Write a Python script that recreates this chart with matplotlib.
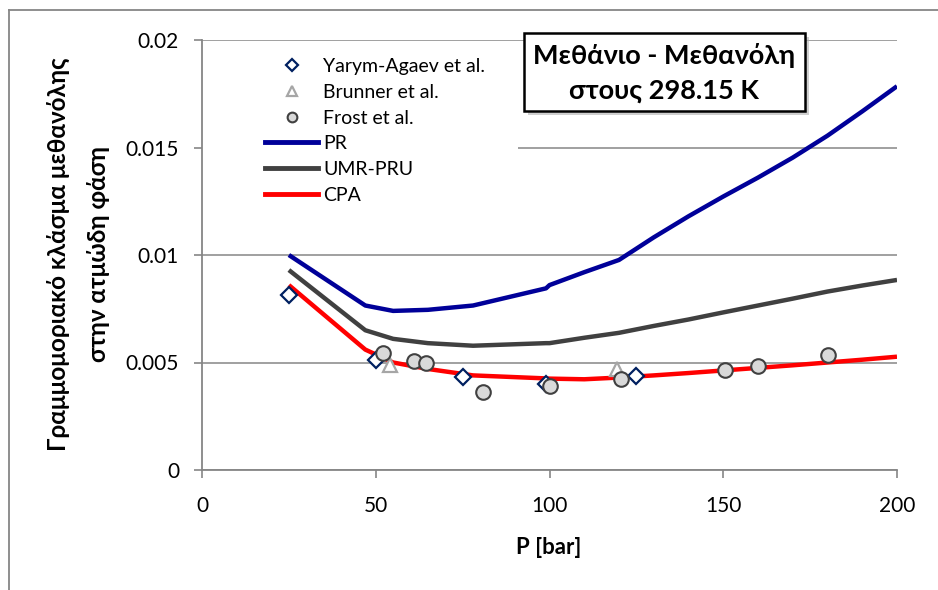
import matplotlib
matplotlib.use("Agg")
import matplotlib.pyplot as plt
from matplotlib.patches import Rectangle
from matplotlib.lines import Line2D

plt.rcParams['font.family'] = ['Lato', 'Noto Sans', 'DejaVu Sans']

# ---------------- data ----------------
p_yarym = [25, 50, 75, 99, 125]
x_yarym = [0.00814, 0.00512, 0.00433, 0.00398, 0.00439]

p_brunner = [54, 119.5]
x_brunner = [0.0049, 0.0047]

p_frost = [52, 61, 64.5, 81, 100, 120.5, 150.5, 160, 180]
x_frost = [0.00543, 0.00508, 0.00499, 0.00364, 0.00392, 0.00423, 0.00465, 0.00485, 0.00536]

p_model = [25, 47, 55, 65, 78, 99, 100, 110, 120, 130, 140, 150, 160, 170, 180, 190, 200]
x_pr = [0.0100, 0.00765, 0.0074, 0.00745, 0.00765, 0.00845, 0.0086, 0.0092, 0.00977,
        0.01082, 0.0118, 0.01272, 0.0136, 0.01453, 0.01555, 0.01668, 0.01785]
x_umr = [0.0093, 0.0065, 0.0061, 0.0059, 0.00578, 0.0059, 0.0059, 0.00615, 0.00638,
         0.0067, 0.0070, 0.00733, 0.00765, 0.00797, 0.0083, 0.00858, 0.00884]
x_cpa = [0.0086, 0.0056, 0.0050, 0.0047, 0.0044, 0.00426, 0.00425, 0.00422, 0.0043,
         0.0044, 0.00451, 0.00463, 0.00475, 0.00487, 0.0050, 0.00513, 0.00527]

x_ticks = [0, 50, 100, 150, 200]
y_ticks = [0, 0.005, 0.01, 0.015, 0.02]
y_tick_labels = ["0", "0.005", "0.01", "0.015", "0.02"]

title_lines = ["Μεθάνιο - Μεθανόλη", "στους 298.15 K"]
ylabel = "Γραμμομοριακό κλάσμα μεθανόλης\nστην ατμώδη φάση"
xlabel = "P [bar]"

# ---------------- figure ----------------
W, H = 938, 590
fig = plt.figure(figsize=(W / 100, H / 100), dpi=100)
ax = fig.add_axes([202 / W, 1 - 470 / H, (897 - 202) / W, (470 - 40) / H])

grey = '#868686'
ax.set_xlim(0, 200)
ax.set_ylim(0, 0.02)
ax.set_xticks(x_ticks)
ax.set_yticks(y_ticks)
ax.set_yticklabels(y_tick_labels)
ax.tick_params(axis='both', direction='out', length=5.5, width=1.2, color=grey,
               labelsize=15, labelcolor='black')
ax.tick_params(axis='y', pad=11)
ax.tick_params(axis='x', pad=13)
for s in ['top', 'right']:
    ax.spines[s].set_visible(False)
for s in ['left', 'bottom']:
    ax.spines[s].set_color(grey)
    ax.spines[s].set_linewidth(1.3)

ax.yaxis.grid(True, color='#999999', linewidth=1.3, zorder=0)
ax.set_axisbelow(True)

# white legend background area (covers gridline behind legend)
ax.add_patch(Rectangle((0, 0.62), 0.455, 0.33, transform=ax.transAxes,
                       facecolor='white', edgecolor='none', zorder=0.8))

ax.plot(p_model, x_pr, color='#000099', lw=3.2, solid_capstyle='butt', zorder=2, label='PR')
ax.plot(p_model, x_umr, color='#404040', lw=3.2, solid_capstyle='butt', zorder=2, label='UMR-PRU')
ax.plot(p_model, x_cpa, color='#ff0000', lw=3.2, solid_capstyle='butt', zorder=2, label='CPA')

ax.plot(p_yarym, x_yarym, linestyle='none', marker='D', ms=8, mfc='white',
        mec='#002060', mew=1.6, zorder=3, label='Yarym-Agaev et al.')
ax.plot(p_brunner, x_brunner, linestyle='none', marker='^', ms=10, mfc='white',
        mec='#a6a6a6', mew=1.6, zorder=3, label='Brunner et al.')
ax.plot(p_frost, x_frost, linestyle='none', marker='o', ms=10.5, mfc='#d9d9d9',
        mec='#404040', mew=1.5, zorder=4, label='Frost et al.')

handles = [
    Line2D([], [], linestyle='none', marker='D', ms=6, mfc='white', mec='#002060', mew=1.6),
    Line2D([], [], linestyle='none', marker='^', ms=7, mfc='white', mec='#a6a6a6', mew=1.6),
    Line2D([], [], linestyle='none', marker='o', ms=7, mfc='#d9d9d9', mec='#404040', mew=1.5),
    Line2D([], [], color='#000099', lw=3.5),
    Line2D([], [], color='#404040', lw=3.5),
    Line2D([], [], color='#ff0000', lw=3.5),
]
labels = ['Yarym-Agaev et al.', 'Brunner et al.', 'Frost et al.', 'PR', 'UMR-PRU', 'CPA']
leg = ax.legend(handles, labels, loc='upper left',
                bbox_to_anchor=((265 - 202) / 695, (470 - 58) / 430),
                borderaxespad=0, borderpad=0, frameon=False, fontsize=14,
                handlelength=2.75, handletextpad=0.25, labelspacing=0.45)
leg.set_zorder(5)

# title box
bx0, by0, bx1, by1 = 524, 33, 805, 111
fig.patches.append(Rectangle((bx0 / W + 4 / W, 1 - by1 / H - 4 / H), (bx1 - bx0) / W, (by1 - by0) / H,
                             transform=fig.transFigure, facecolor='#b0b0b0', edgecolor='none',
                             alpha=0.6, zorder=6))
fig.patches.append(Rectangle((bx0 / W, 1 - by1 / H), (bx1 - bx0) / W, (by1 - by0) / H,
                             transform=fig.transFigure, facecolor='white', edgecolor='black',
                             linewidth=1.8, zorder=7))
fig.text(664 / W, 1 - 56 / H, title_lines[0], ha='center', va='center',
         fontsize=19.5, fontweight='bold', zorder=8)
fig.text(664 / W, 1 - 91 / H, title_lines[1], ha='center', va='center',
         fontsize=19.5, fontweight='bold', zorder=8)

# axis labels
fig.text(78 / W, 1 - 254 / H, ylabel, rotation=90, ha='center', va='center',
         fontsize=17.5, fontweight='bold', linespacing=1.9, multialignment='center')
fig.text(549 / W, 1 - 548 / H, xlabel, ha='center', va='center',
         fontsize=16, fontweight='bold')

# outer chart border
fig.add_artist(Line2D([9 / W, 9 / W], [0, 1 - 10 / H], transform=fig.transFigure,
                      color=grey, lw=1.3))
fig.add_artist(Line2D([9 / W, 1], [1 - 10 / H, 1 - 10 / H], transform=fig.transFigure,
                      color=grey, lw=1.3))

fig.savefig('out.png', dpi=100)
